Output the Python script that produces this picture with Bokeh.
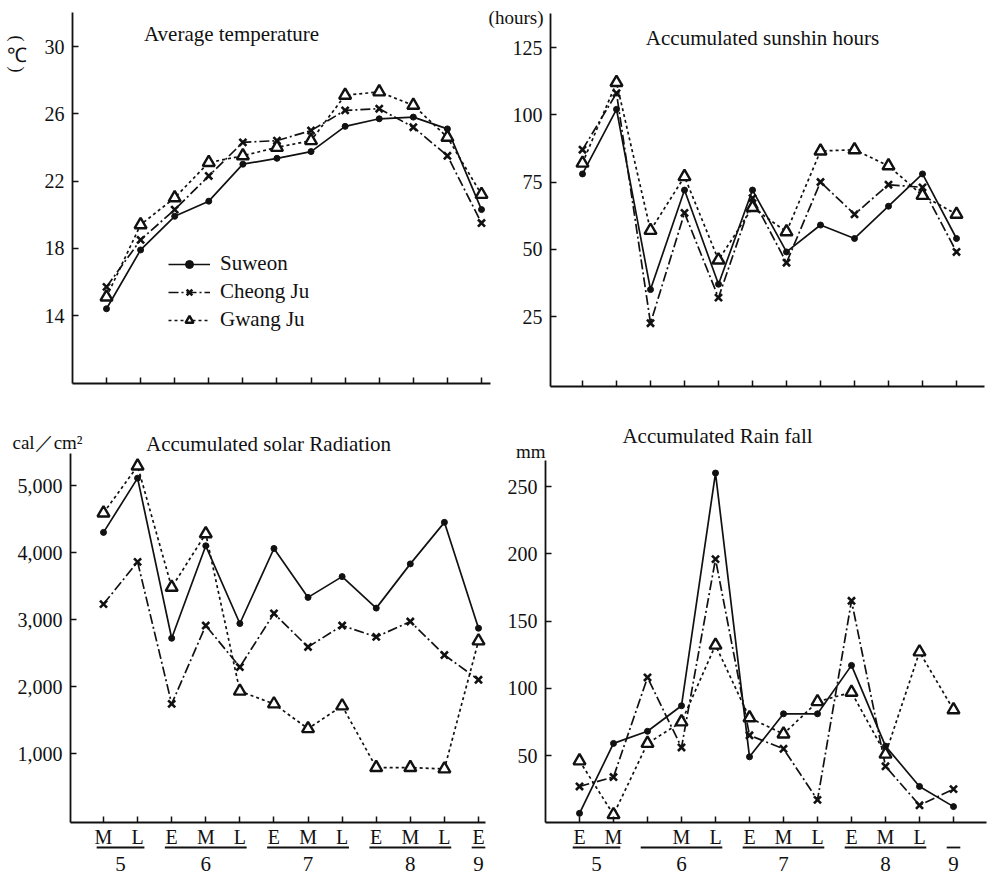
from bokeh.plotting import figure
from bokeh.models import Range1d, LinearAxis, FixedTicker, NumeralTickFormatter, Legend, LegendItem
from bokeh.embed import file_html
from bokeh.resources import INLINE
from bokeh.core.properties import value
import math

# ---------------- data ----------------
periods = list(range(1, 13))

temp_ticks = [14, 18, 22, 26, 30]
temp_suweon = [14.4, 17.9, 19.9, 20.8, 23.0, 23.35, 23.75, 25.25, 25.7, 25.8, 25.1, 20.3]
temp_cheongju = [15.7, 18.5, 20.3, 22.3, 24.3, 24.4, 25.0, 26.2, 26.3, 25.2, 23.5, 19.5]
temp_gwangju = [15.1, 19.4, 21.0, 23.1, 23.5, 24.0, 24.4, 27.1, 27.3, 26.5, 24.6, 21.2]

sun_ticks = [25, 50, 75, 100, 125]
sun_suweon = [78, 102, 35, 72, 37, 72, 49, 59, 54, 66, 78, 54]
sun_cheongju = [87, 108, 22.5, 63.5, 32, 69, 45, 75, 63, 74, 73, 49]
sun_gwangju = [82, 112, 57, 77, 46, 65.5, 56.5, 86.5, 87, 81, 70, 63]

solar_ticks = [1000, 2000, 3000, 4000, 5000]
solar_suweon = [4300, 5110, 2720, 4100, 2940, 4060, 3330, 3640, 3170, 3830, 4450, 2870]
solar_cheongju = [3230, 3860, 1740, 2910, 2290, 3090, 2590, 2910, 2740, 2970, 2470, 2100]
solar_gwangju = [4590, 5290, 3480, 4280, 1930, 1740, 1370, 1710, 790, 790, 770, 2680]

rain_ticks = [50, 100, 150, 200, 250]
rain_suweon = [7, 59, 68, 87, 260, 49, 81, 81, 117, 57, 27, 12]
rain_cheongju = [27, 34, 108, 56, 196, 65, 55, 17, 165, 42, 13, 25]
rain_gwangju = [46, 6, 59, 75, 132, 78, 66, 90, 97, 51, 127, 84]

solar_period_labels = ["M", "L", "E", "M", "L", "E", "M", "L", "E", "M", "L", "E"]
rain_period_labels = ["E", "M", "", "M", "L", "E", "M", "L", "E", "M", "L", ""]
month_labels = ["5", "6", "7", "8", "9"]
month_first = [1, 3, 6, 9, 12]
month_last = [2, 5, 8, 11, 12]

series_names = ["Suweon", "Cheong Ju", "Gwang Ju"]

# ---------------- layout ----------------
W, H = 987, 874
PX0, PX1 = 0, W
PY0, PY1 = 0, H
SERIF = "Liberation Serif"
INK = "#111111"

p = figure(width=W, height=H, output_backend="svg", toolbar_location=None,
           x_range=Range1d(PX0, PX1), y_range=Range1d(PY1, PY0),
           x_axis_location=None, y_axis_location=None, min_border=0,
           outline_line_color=None, background_fill_color="white", border_fill_color="white")
p.grid.visible = False


def lin(v1, p1, v2, p2):
    k = (v2 - v1) / (p2 - p1)
    return lambda px: v1 + (px - p1) * k


panels = {
    "tl": dict(xa=(1, 106, 12, 481), ya=(30, 46, 14, 315), yax=72, xax=383, top=12, right=490,
               ticks=temp_ticks, fmt=None, labels=None,
               data=(temp_suweon, temp_cheongju, temp_gwangju)),
    "tr": dict(xa=(1, 582, 12, 956), ya=(125, 47, 25, 316), yax=550, xax=386, top=13, right=984,
               ticks=sun_ticks, fmt=None, labels=None,
               data=(sun_suweon, sun_cheongju, sun_gwangju)),
    "bl": dict(xa=(1, 103, 12, 478), ya=(5000, 485, 1000, 753), yax=70, xax=822, top=453, right=485,
               ticks=solar_ticks, fmt="0,0", labels=solar_period_labels,
               data=(solar_suweon, solar_cheongju, solar_gwangju)),
    "br": dict(xa=(1, 579, 12, 953), ya=(250, 486, 50, 755), yax=545, xax=822, top=460, right=986,
               ticks=rain_ticks, fmt=None, labels=rain_period_labels,
               data=(rain_suweon, rain_cheongju, rain_gwangju)),
}

xr, yr = {}, {}
for key, cfg in panels.items():
    fx = lin(*cfg["xa"])
    fy = lin(*cfg["ya"])
    cfg["fx"], cfg["fy"] = fx, fy
    xr[key + "x"] = Range1d(fx(PX0), fx(PX1))
    yr[key + "y"] = Range1d(fy(PY1), fy(PY0))
p.extra_x_ranges = xr
p.extra_y_ranges = yr


def style_axis(ax):
    ax.axis_line_color = INK
    ax.axis_line_width = 1.8
    ax.major_tick_line_color = INK
    ax.major_tick_line_width = 1.5
    ax.major_tick_in = 6
    ax.major_tick_out = 0
    ax.minor_tick_line_color = None
    ax.major_label_text_font = SERIF
    ax.major_label_text_font_size = "20px"
    ax.major_label_text_color = INK


styles = [
    dict(line_dash="solid", marker="circle", size=6, lw=1.0, fill=INK),
    dict(line_dash="10 3 2 3", marker="x", size=10, lw=2.6, fill=None),
    dict(line_dash="3 3", marker="triangle", size=12, lw=2.4, fill="white"),
]

legend_items = []
for key, cfg in panels.items():
    fx, fy = cfg["fx"], cfg["fy"]
    xn, yn = key + "x", key + "y"
    xaxis = LinearAxis(x_range_name=xn, y_range_name=yn, fixed_location=fy(cfg["xax"]),
                       bounds=(fx(cfg["yax"]), fx(cfg["right"])), ticker=FixedTicker(ticks=periods))
    style_axis(xaxis)
    xaxis.major_label_standoff = 3
    if cfg["labels"] is None:
        xaxis.major_label_text_color = None
    else:
        xaxis.major_label_overrides = {i: lab for i, lab in zip(periods, cfg["labels"])}
    p.add_layout(xaxis, "below")

    yaxis = LinearAxis(x_range_name=xn, y_range_name=yn, fixed_location=fx(cfg["yax"]),
                       bounds=(fy(cfg["xax"]), fy(cfg["top"])), ticker=FixedTicker(ticks=cfg["ticks"]))
    style_axis(yaxis)
    yaxis.major_label_standoff = 8
    if cfg["fmt"]:
        yaxis.formatter = NumeralTickFormatter(format=cfg["fmt"])
    p.add_layout(yaxis, "left")

    for name, vals, st in zip(series_names, cfg["data"], styles):
        lr = p.line(periods, vals, x_range_name=xn, y_range_name=yn, line_color=INK,
                    line_width=1.7, line_dash=st["line_dash"])
        sr = p.scatter(periods, vals, x_range_name=xn, y_range_name=yn, marker=st["marker"],
                       size=st["size"], line_color=INK, line_width=st["lw"], fill_color=st["fill"])
        if key == "tl":
            legend_items.append(LegendItem(label=name, renderers=[lr, sr]))

legend = Legend(items=legend_items, location=(168, 542), orientation="vertical",
                glyph_width=42, glyph_height=20, label_height=20, spacing=3, padding=0, margin=0,
                label_standoff=10, label_text_font=SERIF, label_text_font_size="21px",
                label_text_color=INK, border_line_color=None, background_fill_alpha=0)
p.add_layout(legend)

# month group underlines and numbers under the two bottom panels
for key in ("bl", "br"):
    xn = key + "x"
    p.segment(x0=[f - 0.2 for f in month_first], y0=[847] * 5,
              x1=[l + 0.2 for l in month_last], y1=[847] * 5,
              x_range_name=xn, line_color=INK, line_width=1.8)
    p.text(x=[(f + l) / 2 for f, l in zip(month_first, month_last)], y=[863] * 5, text=month_labels,
           x_range_name=xn, text_font=value(SERIF), text_font_size="21px", text_color=INK,
           text_align="center", text_baseline="middle")

# titles and unit labels (page-pixel coordinates)
title_text = ["Average temperature", "Accumulated sunshin hours",
              "Accumulated solar Radiation", "Accumulated Rain fall"]
p.text(x=[231, 762, 268, 717], y=[33, 37, 443, 435], text=title_text,
       text_font=value(SERIF), text_font_size="21px", text_color=INK,
       text_align="center", text_baseline="middle")
p.text(x=[543], y=[17], text=["(hours)"], text_font=value(SERIF), text_font_size="19px",
       text_color=INK, text_align="right", text_baseline="middle")
p.text(x=[12], y=[442], text=["cal／cm²"], text_font=value(SERIF), text_font_size="19px",
       text_color=INK, text_align="left", text_baseline="middle")
p.text(x=[545], y=[451], text=["mm"], text_font=value(SERIF), text_font_size="19px",
       text_color=INK, text_align="right", text_baseline="middle")
p.text(x=[16, 16], y=[38, 69], text=["(", ")"], angle=-math.pi / 2, text_font=value(SERIF),
       text_font_size="18px", text_color=INK, text_align="center", text_baseline="middle")
p.text(x=[16], y=[54], text=["℃"], text_font=value(SERIF), text_font_size="20px",
       text_color=INK, text_align="center", text_baseline="middle")

open("out.html", "w").write(file_html(p, INLINE))
